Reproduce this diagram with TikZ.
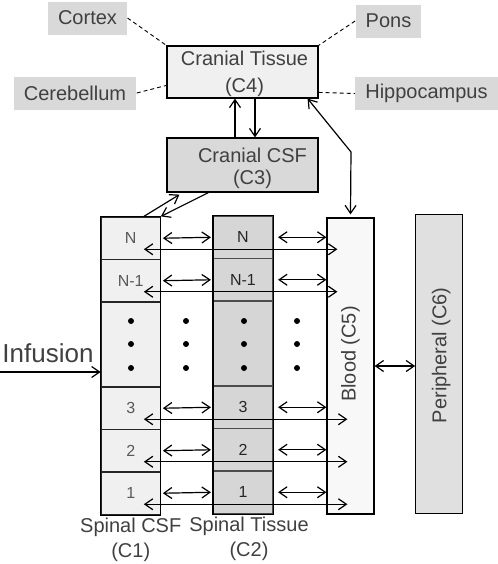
\documentclass[tikz,border=0pt]{standalone}
\usepackage{fontspec}
\setmainfont{Liberation Sans}
\usetikzlibrary{arrows.meta,positioning}
\definecolor{txtgray}{HTML}{404040}
\definecolor{lblgray}{HTML}{D9D9D9}
\definecolor{csfgray}{HTML}{F0F0F0}
\definecolor{tisgray}{HTML}{D6D6D6}
\definecolor{bloodgray}{HTML}{F8F8F8}
\definecolor{perigray}{HTML}{E0E0E0}

\begin{document}
\begin{tikzpicture}[x=0.5pt,y=-0.5pt,>={Straight Barb[length=4pt,width=5.5pt]},line width=0.6pt,
    every node/.style={font=\fontsize{10}{13.5}\selectfont,text=txtgray},
    organ/.style={fill=lblgray,inner xsep=5pt,minimum height=16.5pt},
    cranial/.style={draw,minimum width=75.5pt,inner sep=0pt},
    csfcell/.style={draw=black!85,fill=csfgray,minimum width=29.5pt,minimum height=21.25pt,inner sep=0pt,
                    font=\fontsize{8}{9}\selectfont,text=black!65},
    tiscell/.style={csfcell,fill=tisgray,draw=black!70,text=black!85},
    column/.style={draw,minimum width=23.5pt,minimum height=148pt,inner sep=0pt},
    caption/.style={align=center,font=\fontsize{10}{12.5}\selectfont},
    link/.style={line width=0.45pt,dash pattern=on 2pt off 1.5pt}]
                \useasboundingbox (0,0) rectangle (498,564);
                % brain
                \node[cranial,fill=csfgray,minimum height=26pt] (c4) at (242.5,72) {};
                \node[align=center] at ([xshift=1pt,yshift=-1pt]c4) {Cranial Tissue\\(C4)};
                \node[cranial,fill=lblgray,minimum height=27pt] (c3) at (242.5,165) {};
                \node[align=center,font=\fontsize{10}{11}\selectfont] at ([xshift=5pt,yshift=-1.5pt]c3) {Cranial CSF\\(C3)};
                \node[organ] (cortex) at (87.5,18) {Cortex};
                \node[organ] (pons) at (388.5,21) {Pons};
                \node[organ] (cereb) at (75,93) {Cerebellum};
                \node[organ] (hippo) at (426.5,93.5) {Hippocampus};
                \draw[link] (cortex.east) -- (c4.north west);
                \draw[link] (pons.west) -- (c4.north east);
                \draw[link] (cereb.east) -- (c4.190);
                \draw[link] (c4.-15) -- (hippo.west);
                % spinal columns
                \foreach \r/\lab/\yc in {N/N/238.25,M/N-1/280.75,3/3/408.25,2/2/450.75,1/1/493.25}{
                    \node[csfcell] (csf-\r) at (130.75,\yc) {\lab};
                    \node[tiscell] (tis-\r) at (243,\yc-1) {\lab};
                }
                \node[csfcell,minimum height=42.5pt] (csf-D) at (130.75,344.5) {};
                \node[tiscell,minimum height=42.5pt] (tis-D) at (243,343.5) {};
                \draw (csf-N.north west) rectangle (csf-1.south east);
                \draw (tis-N.north west) rectangle (tis-1.south east);
                \foreach \x in {131,186,244,297}
                    \foreach \y in {321,344,368}
                        \fill (\x,\y) circle (1.5pt);
                \node[column,fill=bloodgray] (blood) at (350.5,366) {};
                \node[rotate=90] at ([yshift=6pt]blood) {Blood (C5)};
                \node[column,fill=perigray,minimum height=149.5pt] (peri) at (439.25,364.25) {};
                \node[rotate=90] at ([xshift=1pt,yshift=4.5pt]peri) {Peripheral (C6)};
                \node[caption,below=-2pt of csf-1] {Spinal CSF\\(C1)};
                \node[caption,below=-2pt of tis-1,xshift=3pt] {Spinal Tissue\\(C2)};
                % exchange
                \foreach \r/\e in {N/5.5pt,M/5.5pt,3/10.5pt,2/10.5pt,1/10.5pt}{
                    \draw[<->,shorten <=1pt,shorten >=1pt] (csf-\r.east) -- (tis-\r.west);
                    \draw[<->,shorten <=2.5pt] (tis-\r.east) -- (tis-\r.east -| blood.west);
                    \draw[<->] ([xshift=-8.5pt,yshift=-5.5pt]csf-\r.east) -- ([xshift=\e,yshift=-5.5pt]csf-\r.east -| blood.west);
                }
                \draw[<->] (blood.east) -- (blood.east -| peri.west);
                \draw[->] ([xshift=-3.75pt]c3.north) -- ([xshift=-3.75pt]c4.south);
                \draw[->] ([xshift=6.25pt]c4.south) -- ([xshift=6.25pt]c3.north);
                \coordinate (kink) at (351,152);
                \draw[<->] ([xshift=-5.5pt]c4.south east) -- (kink) -- ([yshift=1.5pt]blood.north);
                \draw[->] ([xshift=-8.5pt]csf-N.north east) -- ([xshift=6.5pt,yshift=-1pt]c3.south west);
                \draw[->] ([xshift=21pt]c3.south west) -- (csf-N.north east);
                % infusion
                \node[font=\fontsize{13}{15}\selectfont] (inf) at (48,353) {Infusion};
                \coordinate (infin) at (0,372);
                \draw[->] (infin) -- (infin -| csf-D.west);
            \end{tikzpicture}
\end{document}
